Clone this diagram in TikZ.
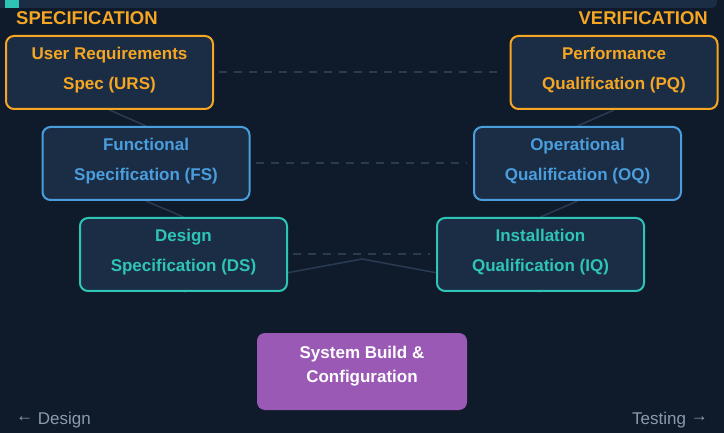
\documentclass[tikz,border=0pt]{standalone}
\usepackage{fontspec}
\setmainfont{Liberation Sans}
\usetikzlibrary{backgrounds}
\definecolor{pagebg}{HTML}{0F1B2A}
\definecolor{boxfill}{HTML}{1B2D45}
\definecolor{specorange}{HTML}{F5A623}
\definecolor{specblue}{HTML}{4A9EDE}
\definecolor{specteal}{HTML}{2EC4B6}
\definecolor{buildpurple}{HTML}{9B59B6}
\definecolor{linkgrey}{HTML}{2B3B52}
\definecolor{notegrey}{HTML}{8A9AAE}
\tikzset{
  vbox/.style={draw=#1, text=#1, line width=2pt, fill=boxfill, rounded corners=8pt,
    minimum width=207pt, minimum height=73pt, inner sep=0pt, align=center,
    font=\fontsize{17}{29.5}\selectfont\bfseries, text depth=8pt},
  link/.style={draw=linkgrey, line width=1.5pt},
  pair/.style={draw=linkgrey, line width=2pt, dash pattern=on 8pt off 7pt, shorten <=5pt, shorten >=6pt},
  head/.style={text=specorange, inner sep=0pt, font=\fontsize{18.5}{18.5}\selectfont\bfseries},
  note/.style={text=notegrey, inner sep=0pt, font=\fontsize{17}{17}\selectfont}
}
\newcommand{\notearrow}[1]{\raisebox{3.5pt}{#1}}
\begin{document}
\begin{tikzpicture}[x=1pt, y=-1pt]
  \begin{scope}[on background layer]
    \fill[pagebg] (0,0) rectangle (724,433);
  \end{scope}
  \useasboundingbox (0,0) rectangle (724,433);
  \fill[boxfill, rounded corners=6pt] (-10,-10) rectangle (717,8);
  \fill[specteal] (5,0) rectangle (19,8);
  \node[head, anchor=west] (spechead) at (16,18) {SPECIFICATION};
  \node[head, anchor=east] (verihead) at (708,18) {VERIFICATION};
  \node[vbox=specorange] (urs) at (109.5,72.5) {User Requirements\\Spec (URS)};
  \node[vbox=specorange] (pq) at (614,72.5) {Performance\\Qualification (PQ)};
  \node[vbox=specblue] (fs) at (146,163.5) {Functional\\Specification (FS)};
  \node[vbox=specblue] (oq) at (577.5,163.5) {Operational\\Qualification (OQ)};
  \node[vbox=specteal] (ds) at (183.5,254.5) {Design\\Specification (DS)};
  \node[vbox=specteal] (iq) at (540.5,254.5) {Installation\\Qualification (IQ)};
  \node[fill=buildpurple, text=white, rounded corners=8pt, minimum width=210pt, minimum height=77pt,
    inner sep=0pt, align=center, font=\fontsize{17}{24}\selectfont\bfseries, text depth=14pt] (build) at (362,371.5) {System Build \&\\Configuration};
  \coordinate (apex) at (362,259);
  \node[note, anchor=west] (design) at (16,420.5) {\notearrow{←} Design};
  \node[note, anchor=east] (testing) at (708,420.5) {Testing \notearrow{→}};
  \begin{scope}[on background layer]
    \draw[link] (urs.south) -- (fs.north);
    \draw[link] (fs.south) -- (ds.north);
    \draw[link] (ds.south) -- (apex) -- (iq.south);
    \draw[link] (iq.north) -- (oq.south);
    \draw[link] (oq.north) -- (pq.south);
    \draw[pair] (urs) -- (pq);
    \draw[pair] (fs) -- (oq);
    \draw[pair] (ds) -- (iq);
  \end{scope}
\end{tikzpicture}
\end{document}
